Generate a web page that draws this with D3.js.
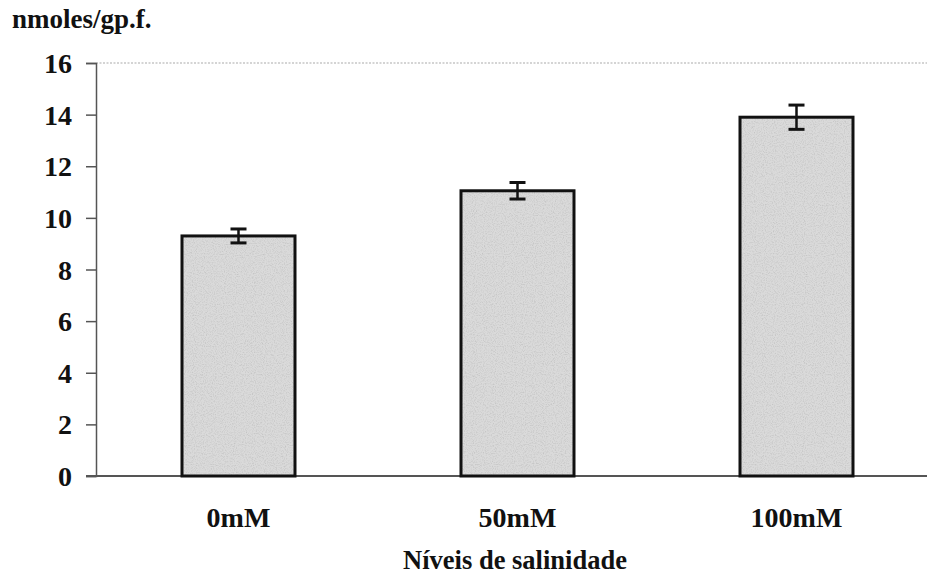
<!DOCTYPE html>
<html><head><meta charset="utf-8">
<script src="https://cdn.jsdelivr.net/npm/d3@7"></script>
<style>body{margin:0;background:#fff}svg{display:block}</style>
</head><body>
<svg id="c" width="927" height="575"></svg>
<script>
const categories = ["0mM", "50mM", "100mM"];
const values = [9.3, 11.05, 13.9];
const errors = [0.27, 0.32, 0.47];
const yTicks = [0, 2, 4, 6, 8, 10, 12, 14, 16];
const yLabel = "nmoles/gp.f.";
const xLabel = "Níveis de salinidade";

const FONT = "'Liberation Serif', 'DejaVu Serif', serif";
const svg = d3.select("#c");
const y = d3.scaleLinear().domain([0, 16]).range([476, 63]);
const x = d3.scaleBand().domain(categories).range([99, 936]).paddingInner(0.595).paddingOuter(0.2975);

const defs = svg.append("defs");
const f = defs.append("filter").attr("id", "grain").attr("x", 0).attr("y", 0).attr("width", 1).attr("height", 1);
f.append("feTurbulence").attr("type", "fractalNoise").attr("baseFrequency", 0.9).attr("numOctaves", 2).attr("seed", 3).attr("result", "n");
f.append("feColorMatrix").attr("in", "n").attr("type", "matrix")
  .attr("values", "0 0 0 0 0.55  0 0 0 0 0.55  0 0 0 0 0.55  0 0 0 -2.2 1.25").attr("result", "g");
f.append("feComposite").attr("in", "g").attr("in2", "SourceGraphic").attr("operator", "atop");

function styleText(sel, size) {
  sel.attr("font-family", FONT).attr("font-weight", "bold").attr("font-size", size).attr("fill", "#111")
     .style("font-family", FONT).style("font-weight", "bold").style("font-size", size + "px");
}

// top gridline
svg.append("line").attr("x1", 96).attr("x2", 927).attr("y1", y(16)).attr("y2", y(16))
  .attr("stroke", "#aaa").attr("stroke-width", 1.2).attr("stroke-dasharray", "2,1.5");

// y axis
const ya = svg.append("g").attr("transform", "translate(96,0)")
  .call(d3.axisLeft(y).tickValues(yTicks).tickSize(10).tickPadding(14));
ya.attr("font-family", FONT);
ya.select(".domain").attr("stroke", "#555").attr("stroke-width", 1.5);
ya.selectAll(".tick line").attr("stroke", "#555").attr("stroke-width", 1.5);
styleText(ya.selectAll(".tick text").attr("dy", "0.34em"), 28);

// x axis line
svg.append("line").attr("x1", 86).attr("x2", 927).attr("y1", y(0)).attr("y2", y(0))
  .attr("stroke", "#555").attr("stroke-width", 1.8);

// bars
svg.selectAll("rect.bar").data(categories).join("rect").attr("class", "bar")
  .attr("x", d => x(d)).attr("width", x.bandwidth())
  .attr("y", (d, i) => y(values[i])).attr("height", (d, i) => y(0) - y(values[i]))
  .attr("fill", "#dadada").attr("filter", "url(#grain)");
svg.selectAll("rect.bo").data(categories).join("rect").attr("class", "bo")
  .attr("x", d => x(d)).attr("width", x.bandwidth())
  .attr("y", (d, i) => y(values[i])).attr("height", (d, i) => y(0) - y(values[i]))
  .attr("fill", "none").attr("stroke", "#111").attr("stroke-width", 3);

// error bars
const eg = svg.selectAll("g.err").data(categories).join("g").attr("class", "err");
eg.append("line").attr("x1", d => x(d) + x.bandwidth() / 2).attr("x2", d => x(d) + x.bandwidth() / 2)
  .attr("y1", (d, i) => y(values[i] + errors[i])).attr("y2", (d, i) => y(values[i] - errors[i]))
  .attr("stroke", "#111").attr("stroke-width", 2.5);
[1, -1].forEach(s => {
  eg.append("line").attr("x1", d => x(d) + x.bandwidth() / 2 - 8).attr("x2", d => x(d) + x.bandwidth() / 2 + 8)
    .attr("y1", (d, i) => y(values[i] + s * errors[i])).attr("y2", (d, i) => y(values[i] + s * errors[i]))
    .attr("stroke", "#111").attr("stroke-width", 3);
});

// category labels
styleText(svg.selectAll("text.cat").data(categories).join("text").attr("class", "cat")
  .attr("x", d => x(d) + x.bandwidth() / 2).attr("y", 527).attr("text-anchor", "middle").text(d => d), 28);

styleText(svg.append("text").attr("x", 515).attr("y", 569).attr("text-anchor", "middle").text(xLabel), 26.5);
styleText(svg.append("text").attr("x", 12).attr("y", 28).text(yLabel), 27);
</script>
</body></html>
